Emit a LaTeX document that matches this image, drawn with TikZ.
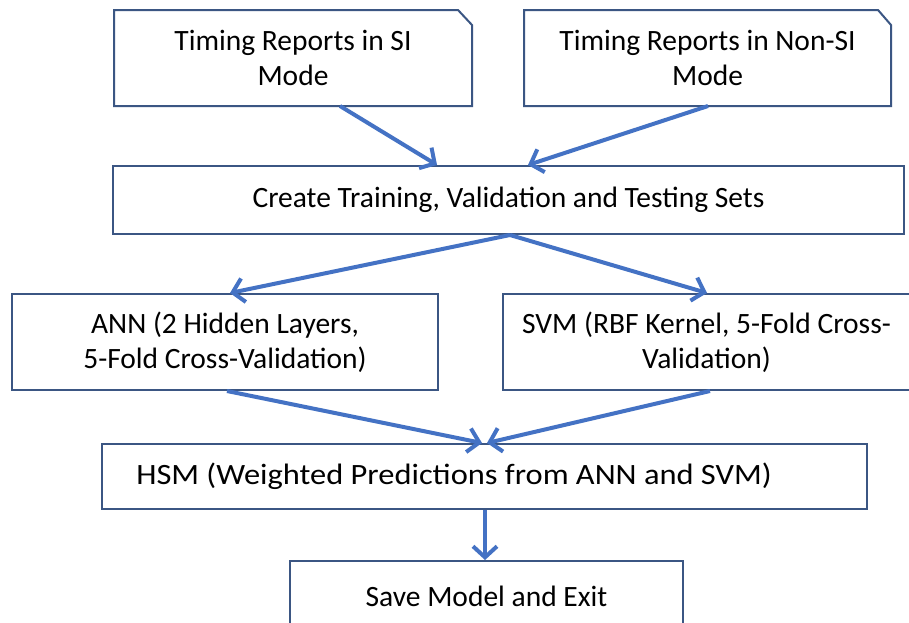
\documentclass[tikz,border=0pt]{standalone}
\usepackage{fontspec}
\setmainfont{Carlito}
\usetikzlibrary{arrows.meta}
\definecolor{boxline}{HTML}{3B5683}
\definecolor{arrowblue}{HTML}{4472C4}
\begin{document}
\begin{tikzpicture}[x=1pt,y=-1pt,
  box/.style={draw=boxline, line width=2pt, fill=white, align=center, inner sep=0pt,
              font=\fontsize{29.5}{35}\selectfont},
  cutbox/.style={box, draw=none, fill=none},
  outline/.style={draw=boxline, line width=2pt},
  arr/.style={draw=arrowblue, line width=4pt, -{Straight Barb[length=11pt,width=24pt]}}]
\useasboundingbox (0,0) rectangle (909,622);
\clip (0,0) rectangle (909,622);
\fill[white] (0,0) rectangle (909,622);

% top boxes with cut corner
\node[cutbox, minimum width=356pt, minimum height=94pt] (si) at (293,58) {Timing Reports in SI\\Mode};
\draw[outline] (si.north west) -- ([xshift=-14pt]si.north east) -- ([yshift=-15pt]si.north east) -- (si.south east) -- (si.south west) -- cycle;

\node[cutbox, minimum width=365pt, minimum height=94pt] (nsi) at (707.5,58) {Timing Reports in Non-SI\\Mode};
\draw[outline] (nsi.north west) -- ([xshift=-13pt]nsi.north east) -- ([yshift=-15pt]nsi.north east) -- (nsi.south east) -- (nsi.south west) -- cycle;

\node[box, minimum width=791pt, minimum height=68pt] (create) at (508.5,200) {Create Training, Validation and Testing Sets};

\node[box, minimum width=426pt, minimum height=96pt] (ann) at (225,342) {ANN (2 Hidden Layers,\\5-Fold Cross-Validation)};
\node[box, minimum width=407pt, minimum height=96pt] (svm) at (706.5,342) {SVM (RBF Kernel, 5-Fold Cross-\\Validation)};

\node[box, minimum width=765pt, minimum height=65pt] (hsm) at (484.5,476.5) {};
\node[font=\fontsize{29.5}{35}\selectfont, inner sep=0pt, xscale=1.1, transform shape] (hsmtext) at (454,476.5) {HSM (Weighted Predictions from ANN and SVM)};

\node[box, minimum width=393pt, minimum height=70pt] (save) at (486.5,596) {Save Model and Exit};

% connectors
\draw[arr] ([xshift=47pt]si.south) -- ([xshift=-71.5pt]create.north);
\draw[arr] ([xshift=0.5pt]nsi.south) -- ([xshift=19.5pt]create.north);
\draw[arr] ([xshift=1.5pt]create.south) -- ([xshift=5pt]ann.north);
\draw[arr] ([xshift=1.5pt]create.south) -- ([xshift=0.5pt]svm.north);
\draw[arr] ([xshift=2pt]ann.south) -- ([xshift=-2.5pt]hsm.north);
\draw[arr] ([xshift=3.5pt]svm.south) -- ([xshift=2.5pt]hsm.north);
\draw[arr] ([xshift=0.5pt]hsm.south) -- ([xshift=-1.5pt]save.north);
\end{tikzpicture}
\end{document}
